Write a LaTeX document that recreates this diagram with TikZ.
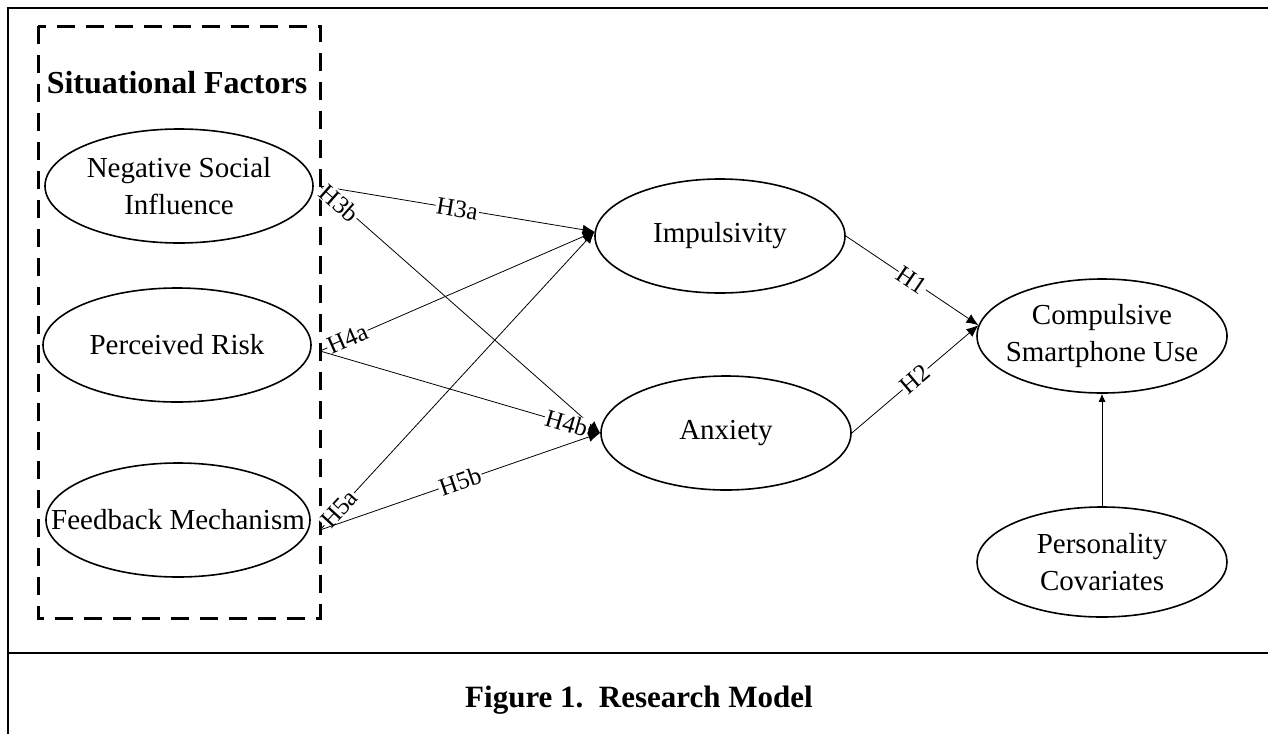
\documentclass[tikz,border=0pt]{standalone}
\usepackage{fontspec}
\setmainfont{Liberation Serif}
\usetikzlibrary{shapes.geometric,arrows.meta}
\tikzset{construct/.style={ellipse, draw, line width=1.6pt, minimum width=250pt, minimum height=114pt, inner sep=0pt, inner xsep=-40pt, align=center, font=\fontsize{29}{37}\selectfont},
  hyp/.style={-{Latex[length=12pt,width=10pt]}, line width=0.8pt},
  hlabel/.style={sloped, fill=white, inner sep=1pt, font=\fontsize{25}{25}\selectfont},
  frame/.style={line width=2.5pt},
  factorbox/.style={line width=3pt, dash pattern=on 18pt off 11pt}}

\begin{document}
\begin{tikzpicture}[x=1pt,y=-1pt]
  \useasboundingbox (0,0) rectangle (1268,734);
  % outer frame and caption
  \draw[frame] (1268,8) -- (8,8) -- (8,734);
  \draw[frame] (8,653) -- (1268,653);
  \node[anchor=base, font=\bfseries\fontsize{31}{31}\selectfont] (caption) at (639,707) {Figure 1.~~Research Model};

  % situational factors
  \draw[factorbox] (38,26) rectangle (320,618);
  \node[anchor=base, font=\bfseries\fontsize{32}{32}\selectfont] (sitlabel) at (177,93) {Situational Factors};
  \node[construct, minimum width=268pt] (nsi) at (179,186) {Negative Social\\Influence};
  \node[construct, minimum width=268pt] (risk) at (177,345) {Perceived Risk};
  \node[construct, minimum width=264pt] (feedback) at (178,520) {Feedback Mechanism};

  % mediators and outcome
  \node[construct] (imp) at (720,236) {Impulsivity};
  \node[construct] (anx) at (726,433) {Anxiety};
  \node[construct] (csu) at (1102,336) {Compulsive\\Smartphone Use};
  \node[construct, minimum height=110pt] (pers) at (1102,562) {Personality\\Covariates};

  \coordinate (nsi-out) at (320,186);
  \coordinate (risk-out) at (320,351);
  \coordinate (feedback-out) at (320,530);
  \coordinate (imp-in) at (imp.178);

  \draw[hyp] (nsi-out) -- node[hlabel] (h3a) {H3a} (imp-in);
  \draw[hyp] (nsi-out) -- node[hlabel, pos=0.07] (h3b) {H3b} (anx.west);
  \draw[hyp] (risk-out) -- node[hlabel, pos=0.1] (h4a) {H4a} (imp-in);
  \draw[hyp] (risk-out) -- node[hlabel, pos=0.88] (h4b) {H4b} (anx.west);
  \draw[hyp] (feedback-out) -- node[hlabel, pos=0.07] (h5a) {H5a} (imp-in);
  \draw[hyp] (feedback-out) -- node[hlabel] (h5b) {H5b} (anx.west);
  \draw[hyp] (imp.east) -- node[hlabel] (h1) {H1} (csu.175);
  \draw[hyp] (anx.east) -- node[hlabel] (h2) {H2} (csu.175);
  \draw[hyp, -{Latex[length=8pt,width=7pt]}] (pers) -- (csu);
\end{tikzpicture}
\end{document}
